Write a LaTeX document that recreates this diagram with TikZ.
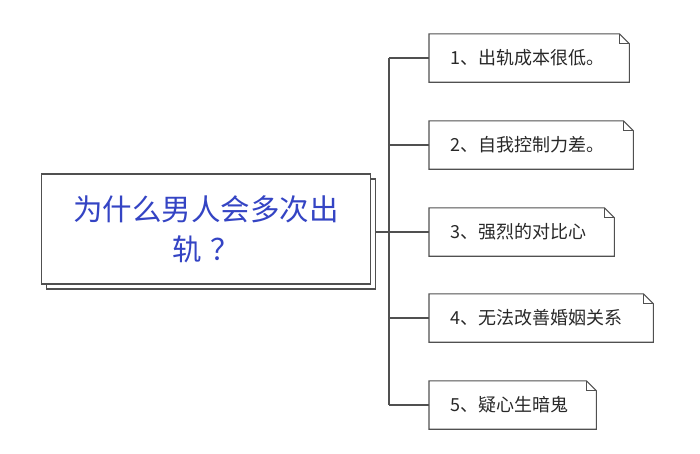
\documentclass[tikz,border=0pt]{standalone}
\usepackage{fontspec}
\setmainfont{Noto Sans CJK SC}
\usetikzlibrary{shadows}
\definecolor{titleblue}{RGB}{52,68,196}
\definecolor{linegray}{RGB}{80,80,80}
\definecolor{textgray}{RGB}{40,40,40}
\tikzset{
  rootbox/.style={draw=linegray, line width=1.3pt, fill=white, minimum width=329pt, minimum height=110pt,
    align=center, text=titleblue, font=\fontsize{29.5}{40}\selectfont,
    copy shadow={shadow xshift=5pt, shadow yshift=-5pt}},
  reason/.style={anchor=west, inner xsep=21pt, inner ysep=0pt, minimum height=48pt,
    text=textgray, font=\fontsize{18}{20}\selectfont},
  link/.style={linegray, line width=1.1pt}
}

\begin{document}
\begin{tikzpicture}[x=1pt, y=-1pt]
\useasboundingbox (0,0) rectangle (700,453);
\node[rootbox] (root) at (206,229) {为什么男人会多次出\\轨\hspace{0.3em}？};
\node[reason, text width=158pt] (r1) at (429,58) {1、出轨成本很低。};
\node[reason, text width=162pt] (r2) at (429,145) {2、自我控制力差。};
\node[reason, text width=143pt] (r3) at (429,232) {3、强烈的对比心};
\node[reason, text width=182pt] (r4) at (429,318) {4、无法改善婚姻关系};
\node[reason, text width=125pt] (r5) at (429,405) {5、疑心生暗鬼};
\coordinate (trunk) at (389,0);
% note outlines with folded corner
\foreach \n in {r1,r2,r3,r4,r5}{
  \draw[link] (\n.south west) -- (\n.north west) -- ([xshift=-10pt]\n.north east)
    -- ([yshift=-10pt]\n.north east) -- (\n.south east) -- cycle;
  \draw[link] ([xshift=-10pt]\n.north east) |- ([yshift=-10pt]\n.north east);
  \draw[link] (trunk |- \n.west) -- (\n.west);
}
\draw[link] (trunk |- r1.west) -- (trunk |- r5.west);
\draw[link] ([xshift=5pt]root.east |- r3.west) -- (trunk |- r3.west);
\end{tikzpicture}
\end{document}
